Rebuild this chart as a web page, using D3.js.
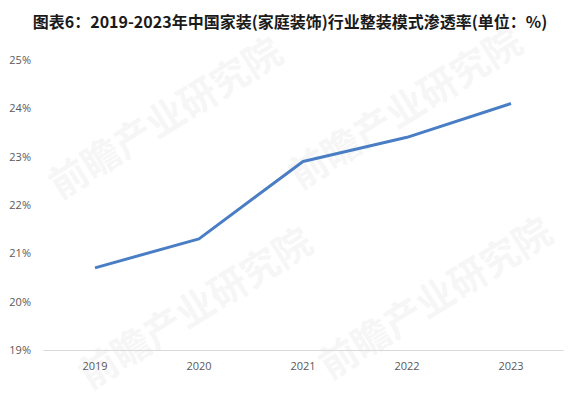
<!DOCTYPE html>
<html lang="zh">
<head>
<meta charset="utf-8">
<title>整装模式渗透率</title>
<script src="https://cdn.jsdelivr.net/npm/d3@7/dist/d3.min.js"></script>
<style>
  body { margin: 0; background: #fff; }
  .title { font-family: "Noto Sans CJK SC", sans-serif; font-size: 16px; font-weight: bold; fill: #1a1a1a; }
  .tick text { font-family: "Open Sans", "Liberation Sans", sans-serif; font-size: 11px; fill: #595959; }
  .wm { font-family: "Noto Sans CJK SC", sans-serif; font-weight: bold; fill: #000; opacity: 0.03; }
</style>
</head>
<body>
<div id="chart"></div>
<script>
// data
var years = ["2019", "2020", "2021", "2022", "2023"];
var rates = [20.7, 21.3, 22.9, 23.4, 24.1];
var yTicks = [19, 20, 21, 22, 23, 24, 25];

var W = 581, H = 420;
var svg = d3.select("#chart").append("svg")
    .attr("width", W).attr("height", H);

// faint watermarks
[[60, 200], [300, 190], [90, 390], [330, 380]].forEach(function(p) {
  svg.append("text").attr("class", "wm")
    .attr("transform", "translate(" + p[0] + "," + p[1] + ") rotate(-32)")
    .style("font-size", "38px")
    .text("前瞻产业研究院");
});

svg.append("text")
    .attr("class", "title")
    .attr("x", 290).attr("y", 28)
    .attr("text-anchor", "middle")
    .text("图表6：2019-2023年中国家装(家庭装饰)行业整装模式渗透率(单位：%)");

var x = d3.scaleBand().domain(years).range([43, 563]);
var y = d3.scaleLinear().domain([19, 25]).range([350, 60]);

// y axis labels (no line)
var ya = svg.append("g")
    .attr("transform", "translate(31,0)")
    .call(d3.axisLeft(y).tickValues(yTicks).tickSize(0).tickPadding(0)
      .tickFormat(function(d) { return d + "%"; }));
ya.select(".domain").remove();

// x axis
var xa = svg.append("g")
    .attr("transform", "translate(0,350)")
    .call(d3.axisBottom(x).tickSize(0).tickPadding(12));
xa.select(".domain").attr("stroke", "#d9d9d9");

var line = d3.line()
    .x(function(d, i) { return x(years[i]) + x.bandwidth() / 2; })
    .y(function(d) { return y(d); });

svg.append("path")
    .datum(rates)
    .attr("d", line)
    .attr("fill", "none")
    .attr("stroke", "#4a7ec4")
    .attr("stroke-width", 3)
    .attr("stroke-linejoin", "round");
</script>
</body>
</html>
